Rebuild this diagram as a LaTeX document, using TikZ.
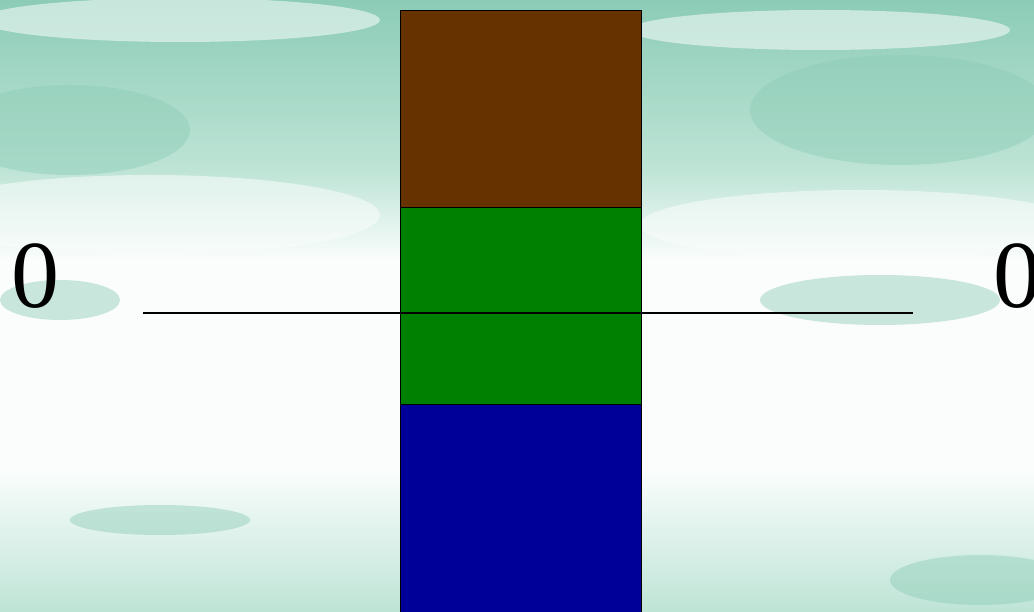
\documentclass[tikz,border=0pt]{standalone}
\usepackage{fontspec}
\setmainfont{Liberation Serif}
\definecolor{teal1}{RGB}{140,204,182}
\definecolor{teal2}{RGB}{190,228,214}
\definecolor{cloud}{RGB}{250,253,252}
\definecolor{brownc}{RGB}{102,51,0}
\definecolor{greenc}{RGB}{0,128,0}
\definecolor{bluec}{RGB}{0,0,153}
\tikzset{
  layer/.style={draw=black, line width=1.3pt, minimum width=241pt, minimum height=197pt, inner sep=0pt, anchor=north west},
  zero/.style={font=\fontsize{96}{96}\selectfont, inner sep=0pt, anchor=base west},
  puff/.style={fill=cloud, opacity=0.55},
  tpuff/.style={fill=teal1, opacity=0.45}
}
\begin{document}
\begin{tikzpicture}[x=1pt,y=-1pt]
\useasboundingbox (0,0) rectangle (1034,612);
\begin{scope}
\clip (0,0) rectangle (1034,612);
% background sky
\fill[top color=teal1, bottom color=teal2] (0,0) rectangle (1034,170);
\fill[top color=teal2, bottom color=cloud] (0,170) rectangle (1034,260);
\fill[cloud] (0,260) rectangle (1034,470);
\fill[top color=cloud, bottom color=teal2] (0,470) rectangle (1034,612);
% clouds
\fill[puff] (180,20) ellipse (200 and 22);
\fill[puff] (820,30) ellipse (190 and 20);
\fill[puff] (150,215) ellipse (230 and 40);
\fill[puff] (860,225) ellipse (220 and 35);
\fill[tpuff] (70,130) ellipse (120 and 45);
\fill[tpuff] (900,110) ellipse (150 and 55);
\fill[tpuff] (880,300) ellipse (120 and 25);
\fill[tpuff] (60,300) ellipse (60 and 20);
\fill[tpuff] (980,580) ellipse (90 and 25);
\fill[tpuff] (160,520) ellipse (90 and 15);
% layers
\node[layer, fill=brownc] (top) at (400,10) {};
\node[layer, fill=greenc] (mid) at (400,207) {};
\node[layer, fill=bluec, minimum height=230pt] (bot) at (400,404) {};
% level line
\coordinate (la) at (143,313);
\coordinate (lb) at (913,313);
\draw[line width=1.5pt] (la) -- (lb);
% labels
\node[zero] (zl) at (11,308) {0};
\node[zero] (zr) at (993,308) {0};
\end{scope}
\end{tikzpicture}
\end{document}
